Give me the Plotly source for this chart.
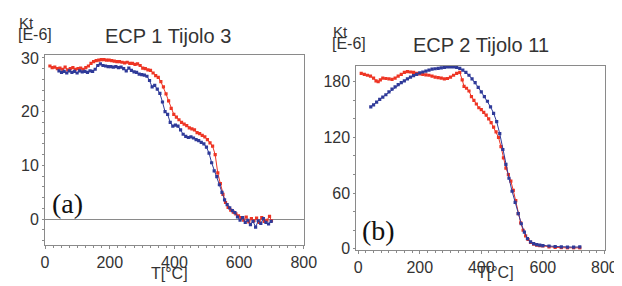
import plotly.graph_objects as go

# ---------------- data ----------------
a_red_T = [15,22,30,38,46,54,62,70,78,86,94,102,110,118,126,134,142,150,158,166,174,182,190,198,206,214,222,230,238,246,254,262,270,278,286,294,302,310,318,326,334,342,350,358,366,374,382,390,398,406,414,422,430,438,446,454,462,470,478,486,494,502,510,518,526,534,542,550,558,566,574,582,590,598,606,614,622,630,638,646,654,662,670,678,686,694,700]
a_red_K = [28.5,28.2,28.3,28.0,28.1,27.9,28.3,27.8,28.0,28.2,27.9,28.0,28.1,27.9,28.2,28.5,29.0,29.3,29.5,29.6,29.7,29.7,29.6,29.6,29.5,29.4,29.3,29.3,29.2,29.1,29.2,29.0,29.0,28.8,28.9,28.6,28.1,28.0,27.8,27.7,27.2,26.7,26.4,25.6,24.6,23.3,22.0,20.6,19.5,19.0,18.5,18.0,17.7,17.4,17.0,16.8,16.6,16.1,15.9,15.6,15.3,14.8,14.2,13.6,12.0,8.6,6.6,4.6,3.1,2.2,1.7,1.3,1.0,0.6,0.3,-0.2,0.4,-0.5,0.1,-0.3,0.2,-0.6,0.3,-0.4,-0.2,0.5,-0.3]

a_blue_T = [43,51,59,67,75,83,91,99,107,115,123,131,139,147,155,163,171,179,187,195,203,211,219,227,235,243,251,259,267,275,283,291,299,307,315,323,331,339,347,355,363,371,379,387,395,403,411,419,427,435,443,451,459,467,475,483,491,499,507,515,523,531,539,547,555,563,571,579,587,595,603,611,619,627,635,643,651,659,667,675,683,691,699]
a_blue_K = [27.6,27.3,27.5,27.2,27.6,27.3,27.5,27.2,27.6,27.4,27.5,27.3,27.6,27.5,27.9,28.6,28.9,28.6,28.5,28.4,28.4,28.3,28.4,28.2,28.3,28.0,27.6,28.1,27.7,27.4,27.3,27.0,26.9,26.8,26.6,25.8,24.6,24.9,24.2,23.4,21.8,20.0,19.5,18.0,17.3,17.5,17.3,16.6,15.8,15.4,15.2,15.3,15.1,14.8,14.6,14.3,14.0,13.4,12.3,10.5,9.0,7.9,6.4,5.0,3.6,2.7,2.1,1.6,1.2,0.4,-0.2,0.3,-0.6,-0.2,-1.0,-0.4,-1.5,-0.3,-0.8,0.1,-0.6,-0.9,-0.4]

b_red_T = [10,20,30,40,50,58,65,72,80,90,100,110,120,130,140,150,160,170,180,190,200,210,220,230,240,250,260,270,280,290,300,310,320,330,338,344,352,360,368,376,384,392,400,408,416,424,432,440,448,456,464,472,480,488,496,504,512,520,528,536,544,552,560,570,580,590,600,620,640,660,680,700,720]
b_red_K = [189,188,187,186,184,181,180,182,184,183.5,183,182.5,184,186,188,190,191,190.5,190,189,188.5,188,187.5,187,186,185,184.5,184,183,183.5,185,187,189,190,182,175,173,170,164,160,156,152,150,147,144,140,136,131,126,120,110,98,87,80,73,63,52,38,28,20,14,10,7,5,4,3.5,3,2,1.5,1.2,1.0,1.0,1.0]

b_blue_T = [41,50,60,70,80,90,100,110,120,130,140,150,160,170,180,190,200,210,220,230,240,250,260,270,280,290,300,310,320,330,340,350,360,370,380,390,400,410,420,430,440,450,460,470,480,490,500,510,520,530,540,550,560,570,580,590,600,620,640,660,680,700,720]
b_blue_K = [153,155,158,161,163.5,166,169,172,174.5,177,179,181,183,185,186.5,188,189.5,190.5,191.5,192.5,193.5,194,194.5,195,195.5,196,196,196,195.5,194.5,192.5,190,187,183,179,174,169,164,159,153,146,137,124,107,91,76,62,50,38,27,18,11,7.5,5.5,4.5,4,3.5,3,2.5,2,1.8,1.8,2]

x_ticks = [0, 200, 400, 600, 800]
a_y_ticks = [0, 10, 20, 30]
b_y_ticks = [0, 60, 120, 180]

RED = "#ee3524"
BLUE = "#2f3a99"
AX = "#8a8a8a"
TXT = "#333333"
FONT = "Liberation Sans"

W, H = 622, 286
def px(x): return x / W
def py(y): return 1 - y / H

fig = go.Figure()
def series(x, y, color, xa, ya):
    fig.add_trace(go.Scatter(x=x, y=y, mode="lines+markers", xaxis=xa, yaxis=ya,
                             line=dict(color=color, width=1),
                             marker=dict(color=color, size=3.2, symbol="square"),
                             showlegend=False, hoverinfo="skip"))

series(a_red_T, a_red_K, RED, "x", "y")
series(a_blue_T, a_blue_K, BLUE, "x", "y")
series(b_red_T, b_red_K, RED, "x2", "y2")
series(b_blue_T, b_blue_K, BLUE, "x2", "y2")

def xaxis(domain, rng, anchor):
    return dict(domain=domain, range=rng, anchor=anchor, tickvals=x_ticks,
                showline=True, linecolor=AX, linewidth=1, mirror=True,
                ticks="outside", ticklen=3, tickcolor=AX, showgrid=False, zeroline=False,
                tickfont=dict(family=FONT, size=16, color=TXT),
                minor=dict(dtick=25, ticks="outside", ticklen=2, tickcolor=AX))

def yaxis(domain, rng, anchor, ticks, mdt, zl):
    return dict(domain=domain, range=rng, anchor=anchor, tickvals=ticks,
                showline=True, linecolor=AX, linewidth=1, mirror=True,
                ticks="outside", ticklen=2, tickcolor=AX, showgrid=False,
                zeroline=zl, zerolinecolor=AX, zerolinewidth=1,
                tickfont=dict(family=FONT, size=16, color=TXT),
                minor=dict(dtick=mdt, ticks="outside", ticklen=2, tickcolor=AX))

ann = []
def text(t, x, y, size=14, xa="center", family=FONT, color=TXT):
    ann.append(dict(text=t, x=px(x), y=py(y), xref="paper", yref="paper",
                    xanchor=xa, yanchor="middle", showarrow=False,
                    font=dict(family=family, size=size, color=color)))

text("ECP 1 Tijolo 3", 160, 24, 20)
text("ECP 2 Tijolo 11", 482, 33, 20)
text("Kt", 5, 10, 15, "left")
text("[E-6]", 4, 23, 16, "left")
text("Kt", 328, 19, 15, "left")
text("[E-6]", 327, 32, 16, "left")
text("T[°C]", 162, 273, 16)
text("T[°C]", 497, 272, 16)
text("(a)", 57, 200, 28, family="Liberation Serif", color="#111111")
text("(b)", 377, 228, 28, family="Liberation Serif", color="#111111")

fig.update_layout(
    width=W, height=H, margin=dict(l=0, r=0, t=0, b=0),
    paper_bgcolor="white", plot_bgcolor="white",
    xaxis=xaxis([px(34), px(300)], [0, 800], "y"),
    yaxis=yaxis([1 - 243 / H, 1 - 44 / H], [-4.8, 30.55], "x", a_y_ticks, 2, True),
    xaxis2=xaxis([px(354), px(610)], [-6, 803], "y2"),
    yaxis2=yaxis([1 - 248 / H, 1 - 55 / H], [-1, 197.5], "x2", b_y_ticks, 20, False),
    annotations=ann,
)

fig.write_html("out.html")
